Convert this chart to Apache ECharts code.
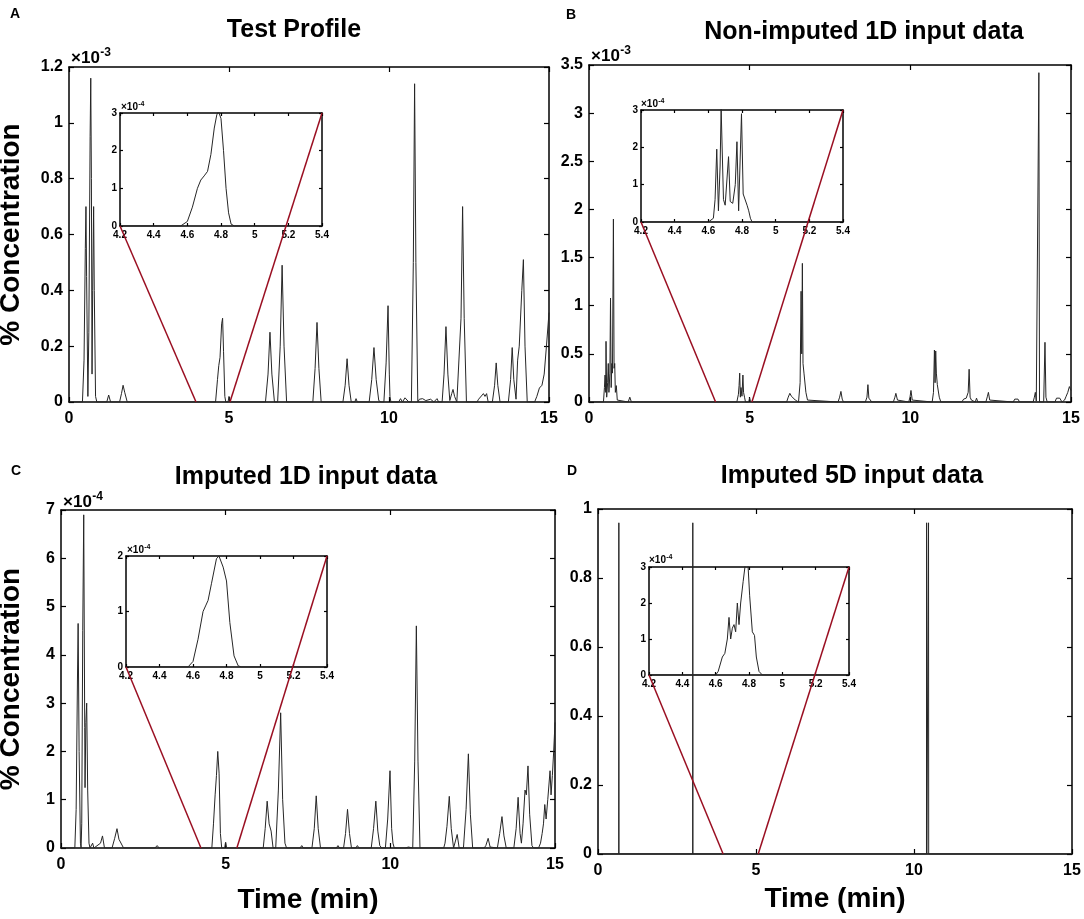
<!DOCTYPE html>
<html><head><meta charset="utf-8">
<script src="https://cdn.jsdelivr.net/npm/echarts@6/dist/echarts.min.js"></script>
<style>html,body{margin:0;padding:0;background:#fff}#c{width:1084px;height:919px}</style>
</head><body><div id="c"></div>
<script>
// ---------------- DATA ----------------
const titles = ['Test Profile', 'Non-imputed 1D input data', 'Imputed 1D input data', 'Imputed 5D input data'];
const letters = ['A', 'B', 'C', 'D'];
const mainXRange = [0, 15], mainXStep = 5;
const insetXRange = [4.2, 5.4], insetXStep = 0.2;
const mainYMax = [1.2, 3.5, 7, 1];
const mainYStep = [0.2, 0.5, 1, 0.2];
const insetYMax = [3, 3, 2, 3];
const insetYStep = [1, 1, 1, 1];
const mainExp = ['-3', '-3', '-4', null];
const insetExp = ['-4', '-4', '-4', '-4'];
const connectTo = [[3.97, 5.03], [3.94, 5.07], [4.25, 5.34], [3.96, 5.07]];

// Test profile (x10^-3)
const traceA = [
[0,0],[0.42,0],[0.47,0.15],[0.51,0.55],[0.53,0.70],[0.55,0.45],[0.59,0.02],
[0.62,0.25],[0.66,0.95],[0.68,1.16],[0.70,0.8],[0.72,0.1],
[0.74,0.4],[0.77,0.70],[0.79,0.4],[0.83,0.02],[0.87,0],
[1.18,0],[1.24,0.025],[1.30,0],
[1.58,0],[1.64,0.03],[1.69,0.06],[1.74,0.035],[1.82,0],
[4.58,0],[4.64,0.08],[4.68,0.13],[4.72,0.16],[4.77,0.28],[4.80,0.30],[4.83,0.18],[4.87,0.02],[4.9,0],
[4.97,0],[5.0,0.02],[5.03,0],
[6.14,0],[6.22,0.1],[6.28,0.25],[6.34,0.1],[6.42,0],
[6.52,0],[6.6,0.2],[6.66,0.49],[6.72,0.2],[6.8,0],
[7.62,0],[7.69,0.12],[7.75,0.285],[7.81,0.12],[7.88,0],
[8.56,0],[8.63,0.06],[8.69,0.155],[8.75,0.06],[8.82,0],
[8.93,0],[8.97,0.012],[9.01,0],
[9.38,0],[9.46,0.08],[9.53,0.195],[9.6,0.08],[9.68,0.005],[9.75,0],
[9.84,0],[9.91,0.14],[9.97,0.345],[10.01,0.1],[10.03,0.02],[10.06,0],
[10.3,0],[10.36,0.012],[10.42,0],[10.5,0.015],[10.56,0.01],[10.62,0],
[10.7,0],[10.76,0.5],[10.8,1.14],[10.84,0.5],[10.9,0],
[10.95,0.01],[11.05,0.012],[11.15,0.005],[11.3,0.01],[11.4,0],[11.5,0.012],[11.55,0],
[11.66,0],[11.72,0.1],[11.78,0.27],[11.84,0.1],[11.9,0.005],[11.96,0.03],[12.0,0.045],[12.05,0.02],[12.12,0],
[12.18,0],[12.25,0.3],[12.3,0.70],[12.35,0.3],[12.42,0],
[12.75,0],[12.8,0.01],[12.85,0.005],[12.95,0.03],[13.0,0.02],[13.05,0.03],[13.1,0],
[13.23,0],[13.3,0.06],[13.35,0.14],[13.4,0.06],[13.47,0],
[13.73,0],[13.8,0.08],[13.85,0.195],[13.9,0.08],[13.97,0.01],[14.02,0.15],[14.07,0.2],[14.15,0.4],[14.2,0.51],[14.25,0.2],[14.32,0],
[14.55,0],[14.62,0.02],[14.7,0.05],[14.78,0.06],[14.85,0.1],[14.92,0.2],[15,0.32]
];
const insetA = [[4.2,0],[4.56,0],[4.6,0.12],[4.63,0.5],[4.66,1.0],[4.68,1.22],[4.7,1.33],[4.72,1.45],[4.74,1.9],[4.76,2.6],[4.775,2.95],[4.785,3.05],[4.8,2.85],[4.815,2.0],[4.83,1.0],[4.845,0.35],[4.86,0.05],[4.88,0],[5.4,0]];

// Non-imputed 1D (x10^-3)
const traceB = [
[0,0],[0.45,0],[0.48,0.15],[0.5,0.28],[0.52,0.1],[0.53,0.63],[0.55,0.05],[0.58,0.2],[0.6,0.4],[0.62,0.1],[0.65,0.3],[0.67,1.08],[0.69,0.15],[0.71,0.4],[0.73,0.3],[0.76,1.9],[0.78,0.35],[0.8,0.4],[0.82,0.1],[0.85,0.17],[0.88,0.02],[0.92,0],
[1.22,0],[1.27,0.05],[1.32,0],
[1.6,0],[1.65,0.02],[1.7,0],
[4.6,0],[4.65,0.08],[4.67,0.17],[4.69,0.30],[4.71,0.05],[4.73,0.15],[4.76,0.06],[4.79,0.28],[4.81,0.1],[4.84,0.05],[4.87,0],
[4.97,0],[5.0,0.04],[5.03,0],
[6.15,0],[6.2,0.05],[6.25,0.09],[6.3,0.06],[6.35,0.07],[6.42,0.02],[6.48,0],
[6.52,0],[6.57,0.2],[6.6,1.15],[6.62,0.5],[6.64,1.44],[6.66,0.4],[6.69,0.3],[6.72,0.32],[6.75,0.1],[6.8,0.02],[6.85,0],
[7.75,0],[7.8,0.05],[7.84,0.11],[7.88,0.03],[7.92,0],
[8.6,0],[8.65,0.05],[8.68,0.18],[8.71,0.04],[8.76,0.03],[8.8,0],
[9.47,0],[9.52,0.05],[9.55,0.09],[9.6,0.02],[9.65,0],
[9.95,0],[9.99,0.05],[10.02,0.12],[10.06,0.02],[10.1,0],
[10.68,0],[10.72,0.1],[10.75,0.54],[10.77,0.2],[10.79,0.53],[10.81,0.3],[10.84,0.18],[10.87,0.17],[10.9,0.05],[10.95,0],
[11.6,0],[11.66,0.03],[11.7,0.05],[11.74,0.04],[11.8,0.1],[11.83,0.34],[11.86,0.05],[11.9,0.02],[11.95,0],
[12.02,0],[12.06,0.04],[12.1,0],
[12.35,0],[12.4,0.06],[12.43,0.1],[12.47,0.02],[12.52,0],
[13.2,0],[13.25,0.03],[13.3,0.01],[13.35,0.03],[13.4,0],
[13.82,0],[13.86,0.05],[13.89,0.1],[13.92,0.01],[13.97,0],
[13.98,0],[14.0,3.42],[14.02,0],
[14.15,0],[14.19,0.62],[14.22,0.05],[14.26,0],
[14.5,0],[14.55,0.04],[14.6,0.02],[14.65,0.04],[14.72,0],
[14.8,0.02],[14.85,0.06],[14.9,0.1],[14.95,0.16],[15,0.12]
];
const insetB = [[4.2,0],[4.6,0],[4.61,0.05],[4.63,0.1],[4.64,0.6],[4.65,1.95],[4.66,0.3],[4.67,1.5],[4.676,3.05],[4.69,0.6],[4.7,0.45],[4.705,0.5],[4.72,1.75],[4.73,0.55],[4.745,0.5],[4.76,1.0],[4.77,2.15],[4.78,0.3],[4.797,2.9],[4.807,0.75],[4.817,0.75],[4.83,0.45],[4.84,0.3],[4.85,0.1],[4.86,0],[5.4,0]];

// Imputed 1D (x10^-4)
const traceC = [
[0,0],[0.42,0],[0.46,0.8],[0.5,3.5],[0.52,4.65],[0.55,2.0],[0.59,0.1],[0.61,0],
[0.63,0.5],[0.66,4.5],[0.69,6.9],[0.72,2.5],[0.73,1.25],[0.755,2.6],[0.78,3.0],[0.81,1.2],[0.85,0.1],[0.88,0],
[0.92,0],[0.96,0.1],[1.0,0],[1.2,0.1],[1.26,0.25],[1.32,0],
[1.55,0],[1.63,0.2],[1.70,0.4],[1.76,0.18],[1.82,0.15],[1.9,0],
[2.85,0],[2.92,0.05],[2.98,0],
[4.58,0],[4.63,0.5],[4.68,1.1],[4.72,1.5],[4.76,2.0],[4.8,1.55],[4.84,0.3],[4.88,0],
[4.97,0],[5.0,0.12],[5.03,0],
[6.14,0],[6.2,0.4],[6.26,0.97],[6.32,0.5],[6.38,0.35],[6.44,0],
[6.52,0],[6.6,1.2],[6.67,2.8],[6.73,1.0],[6.8,0.1],[6.85,0],
[7.26,0],[7.31,0.05],[7.36,0],
[7.62,0],[7.69,0.4],[7.75,1.08],[7.81,0.4],[7.88,0],
[8.36,0],[8.41,0.05],[8.46,0],
[8.58,0],[8.64,0.3],[8.70,0.8],[8.76,0.3],[8.82,0],
[8.95,0],[9.0,0.05],[9.05,0],
[9.42,0],[9.49,0.4],[9.56,0.97],[9.62,0.35],[9.68,0.05],[9.74,0],
[9.85,0],[9.92,0.6],[9.99,1.6],[10.04,0.4],[10.08,0.1],[10.12,0],
[10.3,0],[10.35,0.02],[10.45,0],[10.55,0.02],[10.6,0],
[10.68,0],[10.74,1.8],[10.79,4.6],[10.84,1.8],[10.9,0],
[11.35,0],[11.4,0.03],[11.45,0],
[11.62,0],[11.66,0.1],[11.72,0.45],[11.79,1.07],[11.85,0.4],[11.92,0],
[11.96,0],[12.03,0.28],[12.09,0],
[12.22,0],[12.3,0.8],[12.37,1.95],[12.43,0.7],[12.5,0],
[12.85,0],[12.9,0.05],[12.97,0.2],[13.03,0.02],[13.08,0],
[13.25,0],[13.32,0.3],[13.39,0.65],[13.45,0.25],[13.52,0],
[13.75,0],[13.82,0.4],[13.88,1.05],[13.94,0.3],[13.98,0.1],[14.03,0.5],[14.09,1.2],[14.13,1.1],[14.18,1.7],[14.23,0.7],[14.3,0.05],[14.35,0],
[14.5,0],[14.56,0.1],[14.61,0.3],[14.65,0.5],[14.69,0.9],[14.73,0.6],[14.78,1.0],[14.85,1.6],[14.88,1.1],[14.92,1.5],[14.96,2.0],[15,2.6]
];
const insetC = [[4.2,0],[4.57,0],[4.6,0.1],[4.63,0.5],[4.66,1.0],[4.675,1.1],[4.69,1.2],[4.71,1.5],[4.74,1.95],[4.755,2.0],[4.78,1.8],[4.8,1.55],[4.82,0.8],[4.845,0.2],[4.87,0.02],[4.89,0],[5.4,0]];

// Imputed 5D (raw)
const traceD = [[0,0],[0.655,0],[0.66,0.96],[0.665,0],[2.995,0],[3.0,0.96],[3.005,0],[10.395,0],[10.4,0.96],[10.405,0],[10.455,0],[10.46,0.96],[10.465,0],[15,0]];
const insetD = [[4.2,0],[4.6,0],[4.615,0.1],[4.64,0.5],[4.655,0.6],[4.67,1.0],[4.68,1.6],[4.69,1.0],[4.7,1.3],[4.71,1.4],[4.72,1.2],[4.73,2.0],[4.74,1.4],[4.75,2.0],[4.765,2.6],[4.777,3.05],[4.794,3.05],[4.804,2.2],[4.82,1.2],[4.833,1.1],[4.844,0.5],[4.86,0.1],[4.88,0],[5.4,0]];

const mainTraces = [traceA, traceB, traceC, traceD];
const insetTraces = [insetA, insetB, insetC, insetD];

// ---------------- LAYOUT / STYLE ----------------
const FONT = '"Liberation Sans", Arial, Helvetica, sans-serif';
const layout = [
  {main:{left:69,top:67,width:480,height:335}, inset:{left:120,top:113,width:202,height:113},
   title:[294,30], letter:[10,14], exp:[71,58], iexp:[121,107], yName:44, xName:null},
  {main:{left:589,top:65,width:482,height:337}, inset:{left:641,top:110,width:202,height:112},
   title:[864,32], letter:[566,15], exp:[591,56], iexp:[641,104], yName:null, xName:null},
  {main:{left:61,top:510,width:494,height:338}, inset:{left:126,top:556,width:201,height:111},
   title:[306,477], letter:[11,471], exp:[63,502], iexp:[127,550], yName:36, xName:38},
  {main:{left:598,top:509,width:474,height:345}, inset:{left:649,top:567,width:200,height:108},
   title:[852,476], letter:[567,471], exp:null, iexp:[649,560], yName:null, xName:31}
];

const grids = [], xAxes = [], yAxes = [], series = [];
function addAxes(gi, xr, xs, ymax, ys, big, opts) {
  const lw = 1.5;
  const lab = big ? {fontSize:16, fontWeight:'bold', color:'#000', fontFamily:FONT}
                  : {fontSize:10, fontWeight:'bold', color:'#000', fontFamily:FONT};
  const tick = {show:true, inside:true, length: big ? 5 : 3, lineStyle:{color:'#000', width:1.2}};
  const line = {show:true, onZero:false, lineStyle:{color:'#000', width:lw}};
  const common = {type:'value', gridIndex:gi, splitLine:{show:false}, axisLine:line, axisTick:tick, nameMoveOverlap:false};
  const xb = Object.assign({}, common, {position:'bottom', min:xr[0], max:xr[1], interval:xs,
    axisLabel:Object.assign({margin: big ? 9 : 4}, lab)});
  if (opts.xName != null) {
    Object.assign(xb, {name:'Time (min)', nameLocation:'middle', nameGap:opts.xName,
      nameTextStyle:{fontSize:28, fontWeight:'bold', color:'#000', fontFamily:FONT}});
  }
  const xt = Object.assign({}, common, {position:'top', min:xr[0], max:xr[1], interval:xs, axisLabel:{show:false}});
  const yl = Object.assign({}, common, {position:'left', min:0, max:ymax, interval:ys,
    axisLabel:Object.assign({margin: big ? 6 : 3}, lab)});
  if (opts.yName != null) {
    Object.assign(yl, {name:'% Concentration', nameLocation:'middle', nameGap:opts.yName,
      nameTextStyle:{fontSize:28, fontWeight:'bold', color:'#000', fontFamily:FONT}});
  }
  const yr = Object.assign({}, common, {position:'right', min:0, max:ymax, interval:ys, axisLabel:{show:false}});
  xAxes.push(xb, xt); yAxes.push(yl, yr);
}

for (let i = 0; i < 4; i++) {
  const L = layout[i];
  grids.push(Object.assign({show:false, outerBoundsMode:'none', containLabel:false}, L.main));
  grids.push(Object.assign({show:false, outerBoundsMode:'none', containLabel:false}, L.inset));
  addAxes(2*i, mainXRange, mainXStep, mainYMax[i], mainYStep[i], true, {xName:L.xName, yName:L.yName});
  addAxes(2*i+1, insetXRange, insetXStep, insetYMax[i], insetYStep[i], false, {});
  series.push({type:'line', xAxisIndex:4*i, yAxisIndex:4*i, data:mainTraces[i], showSymbol:false, symbol:'none',
    lineStyle:{color:'#262626', width:1}, clip:true, z:2, animation:false});
  series.push({type:'line', xAxisIndex:4*i+2, yAxisIndex:4*i+2, data:insetTraces[i], showSymbol:false, symbol:'none',
    lineStyle:{color:'#262626', width:1}, clip:true, z:2, animation:false});
}

const chart = echarts.init(document.getElementById('c'), null, {renderer:'canvas'});
chart.setOption({animation:false, backgroundColor:'#fff', grid:grids, xAxis:xAxes, yAxis:yAxes, series:series});

function txt(x, y, text, size, weight, align) {
  return {type:'text', x:x, y:y, z:20, style:{text:text, fill:'#000',
    font: (weight||'bold') + ' ' + size + 'px ' + FONT,
    align:align||'center', verticalAlign:'middle', textAlign:align||'center', textVerticalAlign:'middle'}};
}
function expo(pos, sup, size) {
  return [txt(pos[0], pos[1], '×10', size, 'bold', 'left'),
          txt(pos[0] + size*1.72, pos[1] - size*0.32, sup, Math.round(size*0.68), 'bold', 'left')];
}

const graphics = [];
for (let i = 0; i < 4; i++) {
  const L = layout[i];
  graphics.push(txt(L.title[0], L.title[1], titles[i], 25, 'bold', 'center'));
  graphics.push(txt(L.letter[0], L.letter[1], letters[i], 14, 'bold', 'left'));
  if (mainExp[i]) graphics.push(...expo(L.exp, mainExp[i], 17));
  graphics.push(...expo(L.iexp, insetExp[i], 10));
  // connectors: inset corners -> main axis points
  const mi = {xAxisIndex:4*i, yAxisIndex:4*i};
  const ii = {xAxisIndex:4*i+2, yAxisIndex:4*i+2};
  const a1 = chart.convertToPixel(ii, [insetXRange[0], 0]);
  const b1 = chart.convertToPixel(mi, [connectTo[i][0], 0]);
  const a2 = chart.convertToPixel(ii, [insetXRange[1], insetYMax[i]]);
  const b2 = chart.convertToPixel(mi, [connectTo[i][1], 0]);
  [[a1,b1],[a2,b2]].forEach(function(p){
    graphics.push({type:'line', z:15, shape:{x1:p[0][0], y1:p[0][1], x2:p[1][0], y2:p[1][1]},
      style:{stroke:'#9a0f22', lineWidth:1.5}});
  });
}
chart.setOption({graphic:{elements:graphics}});
</script></body></html>
